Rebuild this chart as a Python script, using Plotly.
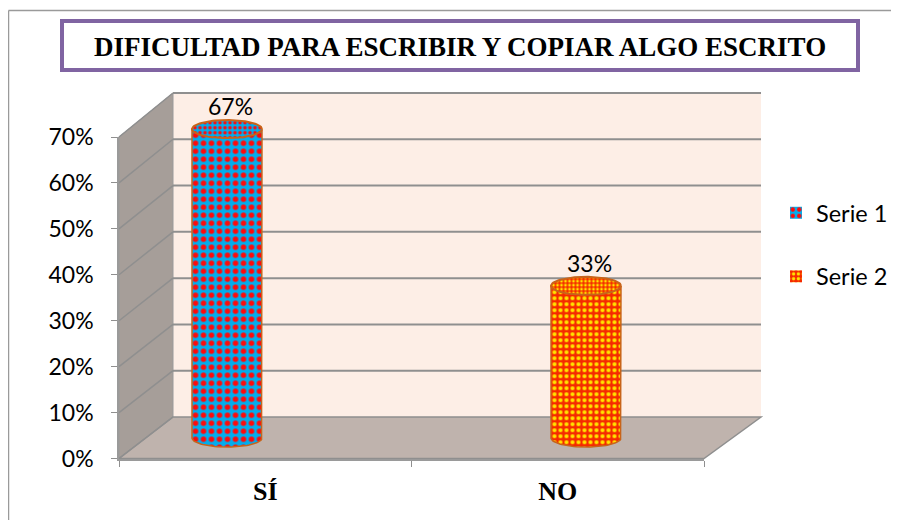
import numpy as np
import plotly.graph_objects as go

categories = ["SÍ", "NO"]
serie_1 = [0.67, None]
serie_2 = [None, 0.33]
labels = ["67%", "33%"]
y_ticks = [0, 0.1, 0.2, 0.3, 0.4, 0.5, 0.6, 0.7]
series_names = ["Serie 1", "Serie 2"]
title_text = "DIFICULTAD PARA ESCRIBIR Y COPIAR ALGO ESCRITO"

# The page keeps its default 8px body margin, so the figure starts at (8, 8).
PAGE = 8
W, H = 899 - PAGE, 520 - PAGE
EDGE = "#c8641a"
GRID = "#8f8f8f"


def px(x):
    return (x - PAGE) / W


def py(y):
    return 1 - (y - PAGE) / H


def poly(points):
    head, *rest = points
    d = f"M{px(head[0])},{py(head[1])}"
    for p in rest:
        d += f"L{px(p[0])},{py(p[1])}"
    return d + "Z"


# pixel geometry of the fake-3D box
FL, FR, FB, FT = 119, 704, 458.5, 137  # front plane
BL, BR, BB, BT = 173, 761, 417, 93     # back wall
PX_FRONT = (FB - FT) / 0.7
PX_BACK = (BB - BT) / 0.7
PX_MID = (PX_FRONT + PX_BACK) / 2

shapes = [
    dict(type="line", xref="paper", yref="paper", x0=px(8.5), x1=1, y0=py(10.5), y1=py(10.5),
         line=dict(color="#9a9a9a", width=1.5), layer="below"),
    dict(type="line", xref="paper", yref="paper", x0=px(8.5), x1=px(8.5), y0=0, y1=py(10.5),
         line=dict(color="#9a9a9a", width=1.5), layer="below"),
    dict(type="rect", xref="paper", yref="paper", x0=px(62), x1=px(858), y0=py(70), y1=py(21),
         line=dict(color="#8064a2", width=4), fillcolor="white", layer="below"),
    dict(type="path", xref="paper", yref="paper", path=poly([(BL, BT), (BR, BT), (BR, BB), (BL, BB)]),
         fillcolor="#fdeee6", line=dict(width=0), layer="below"),
    dict(type="path", xref="paper", yref="paper", path=poly([(FL, FT), (BL, BT), (BL, BB), (FL, FB)]),
         fillcolor="#a69e99", line=dict(color="#9a9a9a", width=1), layer="below"),
    dict(type="path", xref="paper", yref="paper", path=poly([(FL, FB), (BL, BB), (BR, BB), (FR, FB)]),
         fillcolor="#bfb3ad", line=dict(color="#8f8f8f", width=1.5), layer="below"),
]
for t in y_ticks:
    yb = BB - t * PX_BACK
    yf = FB - t * PX_FRONT
    if t > 0:
        shapes.append(dict(type="line", xref="paper", yref="paper", x0=px(BL), x1=px(BR), y0=py(yb), y1=py(yb),
                           line=dict(color=GRID, width=2), layer="below"))
    shapes.append(dict(type="line", xref="paper", yref="paper", x0=px(FL), x1=px(BL), y0=py(yf), y1=py(yb),
                       line=dict(color=GRID, width=1.5), layer="below"))

fig = go.Figure()
fig.add_trace(go.Scatter(x=categories, y=[None, None], xaxis="x", yaxis="y", showlegend=False, hoverinfo="skip"))

# bars sit on the middle plane of the box, on their own hidden axes
positions = [0, 1]
BAR_W = 0.195
CAP_H = 0.0195
Y2_MIN = -0.03
styles = [
    dict(values=serie_1, fg="#ff0a0a", bg="#00aeef", size=8, sol=0.38, shape=".", top_size=5, name=series_names[0]),
    dict(values=serie_2, fg="#ffe600", bg="#f52a00", size=6, sol=0.38, shape=".", top_size=4, name=series_names[1]),
]
for s in styles:
    pat = dict(shape=s["shape"], fgcolor=s["fg"], bgcolor=s["bg"], size=s["size"], solidity=s["sol"], fillmode="replace")
    fig.add_trace(go.Bar(x=positions, y=s["values"], width=BAR_W, name=s["name"], legendgroup=s["name"],
                         marker=dict(color=s["bg"], pattern=pat, line=dict(color=EDGE, width=0)),
                         xaxis="x2", yaxis="y2", showlegend=True))
    for xc, v in zip(positions, s["values"]):
        if v is None:
            continue
        th = np.linspace(0, np.pi, 40)
        ex = xc + BAR_W / 2 * np.cos(th)
        # bottom half ellipse
        fig.add_trace(go.Scatter(x=ex, y=-CAP_H * np.sin(th), mode="lines", line=dict(width=0),
                                 fill="toself", fillcolor=s["bg"], fillpattern=pat, showlegend=False,
                                 hoverinfo="skip", xaxis="x2", yaxis="y2", cliponaxis=False))
        # sides + bottom outline
        ox = np.concatenate([[xc + BAR_W / 2], ex, [xc - BAR_W / 2]])
        oy = np.concatenate([[v], -CAP_H * np.sin(th), [v]])
        fig.add_trace(go.Scatter(x=ox, y=oy, mode="lines", line=dict(color=EDGE, width=1.5), showlegend=False,
                                 hoverinfo="skip", xaxis="x2", yaxis="y2", cliponaxis=False))
        # top ellipse
        t2 = np.linspace(0, 2 * np.pi, 80)
        top_pat = dict(pat, size=s["top_size"])
        fig.add_trace(go.Scatter(x=xc + BAR_W / 2 * np.cos(t2), y=v + CAP_H * np.sin(t2), mode="lines",
                                 line=dict(color=EDGE, width=2), fill="toself", fillcolor=s["bg"],
                                 fillpattern=top_pat, showlegend=False, hoverinfo="skip",
                                 xaxis="x2", yaxis="y2", cliponaxis=False))

annotations = [
    dict(x=px(460), y=py(47), xref="paper", yref="paper", text=f"<b>{title_text}</b>", showarrow=False,
         font=dict(family="Liberation Serif", size=27, color="black"), xanchor="center", yanchor="middle"),
]
all_vals = [a if a is not None else b for a, b in zip(serie_1, serie_2)]
for xc, v, lab in zip(positions, all_vals, labels):
    annotations.append(dict(x=xc, y=v, xref="x2", yref="y2", text=lab, showarrow=False, xshift=3, yshift=23,
                            font=dict(family="Lato", size=23, color="black"), yanchor="middle"))

fig.update_layout(
    width=W, height=H, autosize=False,
    margin=dict(l=0, r=0, t=0, b=0, autoexpand=False),
    paper_bgcolor="white", plot_bgcolor="rgba(0,0,0,0)",
    barmode="overlay",
    shapes=shapes, annotations=annotations,
    legend=dict(x=px(776), y=py(191), xanchor="left", yanchor="top", bgcolor="rgba(0,0,0,0)",
                tracegroupgap=30, traceorder="grouped", font=dict(family="Lato", size=23.5, color="black")),
    xaxis=dict(domain=[px(FL), px(FR)], type="category", range=[-0.5, 1.5],
               tickmode="array", tickvals=categories, ticktext=[f"<b>{c}</b>" for c in categories],
               tickson="boundaries", ticks="outside", ticklen=6, tickcolor="#8f8f8f", showline=True, linecolor="#9a9a9a",
               linewidth=2, showgrid=False, anchor="y", ticklabelstandoff=8,
               tickfont=dict(family="Liberation Serif", size=26, color="black")),
    yaxis=dict(domain=[py(FB), py(FT)], range=[0, 0.7], tickvals=y_ticks, tickformat=".0%", ticks="outside",
               ticklen=6, tickcolor="#8f8f8f", showline=True, linecolor="#9a9a9a", linewidth=1.5, showgrid=False,
               zeroline=False, anchor="x", ticklabelstandoff=13,
               tickfont=dict(family="Lato", size=23, color="black")),
    xaxis2=dict(domain=[px(47.5), px(765.5)], range=[-0.5, 1.5], visible=False, anchor="y2"),
    yaxis2=dict(domain=[py(438 - Y2_MIN * PX_MID), py(438 - 0.7 * PX_MID)], range=[Y2_MIN, 0.7],
                visible=False, anchor="x2"),
)
fig.write_html("out.html")
